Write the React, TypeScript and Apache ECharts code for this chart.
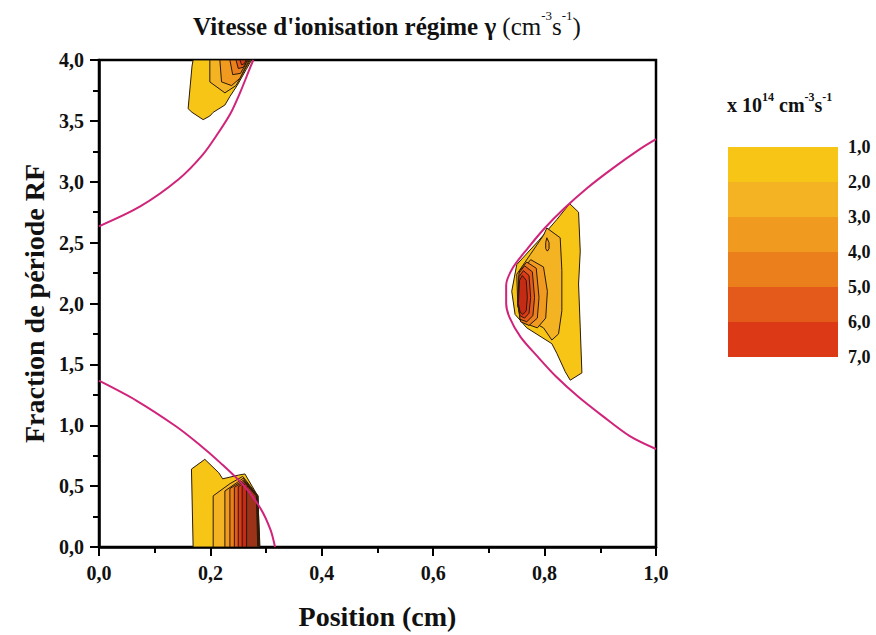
import React, { useEffect, useRef } from "react";
import * as echarts from "echarts";

const FONT = "'Liberation Serif', 'DejaVu Serif', serif";

// colour of each contour level (band above the level)
const levelColors = ["#F7C516", "#F4B322", "#F09B20", "#EB7F1C", "#E35A1A", "#DC3A17", "#C52A14", "#9A3318"];

// legend
const legendTicks = ["1,0", "2,0", "3,0", "4,0", "5,0", "6,0", "7,0"];
const legendColors = ["#F7C516", "#F4B322", "#F09B20", "#EB7F1C", "#E35A1A", "#DC3A17"];

// contour polygons (level, points [position, fraction])
const bottomLeftContours = [
  { level: 1, pts: [[0.169, 0], [0.166, 0.64], [0.19, 0.72], [0.215, 0.61], [0.222, 0.56], [0.25, 0.59], [0.262, 0.6], [0.285, 0.42], [0.289, 0]] },
  { level: 2, pts: [[0.205, 0], [0.205, 0.42], [0.235, 0.52], [0.258, 0.58], [0.2855, 0.42], [0.288, 0]] },
  { level: 3, pts: [[0.226, 0], [0.226, 0.46], [0.259, 0.565], [0.285, 0.42], [0.2875, 0]] },
  { level: 4, pts: [[0.235, 0], [0.235, 0.48], [0.26, 0.55], [0.2845, 0.42], [0.287, 0]] },
  { level: 5, pts: [[0.243, 0], [0.243, 0.49], [0.261, 0.54], [0.284, 0.42], [0.2865, 0]] },
  { level: 6, pts: [[0.25, 0], [0.25, 0.495], [0.262, 0.53], [0.2835, 0.42], [0.286, 0]] },
  { level: 7, pts: [[0.257, 0], [0.257, 0.5], [0.263, 0.52], [0.283, 0.42], [0.2855, 0]] },
  { level: 8, pts: [[0.265, 0], [0.265, 0.49], [0.267, 0.5], [0.2825, 0.42], [0.285, 0]] },
];

const topLeftContours = [
  { level: 1, pts: [[0.169, 4], [0.167, 3.95], [0.16, 3.6], [0.167, 3.57], [0.187, 3.51], [0.199, 3.54], [0.205, 3.57], [0.226, 3.63], [0.235, 3.7], [0.248, 3.79], [0.264, 3.92], [0.274, 4]] },
  { level: 2, pts: [[0.199, 4], [0.199, 3.82], [0.226, 3.73], [0.246, 3.79], [0.264, 3.94], [0.272, 4]] },
  { level: 3, pts: [[0.217, 4], [0.22, 3.82], [0.238, 3.79], [0.253, 3.85], [0.265, 3.96], [0.27, 4]] },
  { level: 4, pts: [[0.235, 4], [0.24, 3.88], [0.254, 3.89], [0.264, 3.97], [0.268, 4]] },
  { level: 5, pts: [[0.246, 4], [0.25, 3.93], [0.259, 3.94], [0.264, 3.98], [0.266, 4]] },
  { level: 6, pts: [[0.253, 4], [0.256, 3.96], [0.261, 3.97], [0.264, 4]] },
];

const rightContours = [
  { level: 1, pts: [[0.845, 2.82], [0.861, 2.75], [0.864, 2.43], [0.861, 2.16], [0.864, 1.8], [0.867, 1.43], [0.846, 1.37], [0.837, 1.44], [0.822, 1.59], [0.813, 1.67], [0.768, 1.8], [0.747, 1.91], [0.741, 2.1], [0.75, 2.32], [0.79, 2.52], [0.822, 2.69], [0.838, 2.78]] },
  { level: 2, pts: [[0.804, 2.62], [0.828, 2.54], [0.831, 2.27], [0.831, 1.94], [0.825, 1.75], [0.813, 1.7], [0.798, 1.8], [0.774, 1.86], [0.752, 1.97], [0.75, 2.24], [0.774, 2.4], [0.798, 2.56]] },
  { level: 3, pts: [[0.753, 2.0], [0.757, 2.26], [0.775, 2.36], [0.798, 2.3], [0.805, 2.1], [0.802, 1.88], [0.787, 1.8], [0.763, 1.84]] },
  { level: 3, pts: [[0.804, 2.54], [0.808, 2.5], [0.808, 2.45], [0.805, 2.43], [0.802, 2.45], [0.802, 2.5]] },
  { level: 4, pts: [[0.752, 2.0], [0.755, 2.27], [0.768, 2.34], [0.785, 2.29], [0.79, 2.05], [0.787, 1.88], [0.772, 1.82], [0.757, 1.85]] },
  { level: 5, pts: [[0.752, 2.0], [0.754, 2.25], [0.764, 2.31], [0.778, 2.26], [0.782, 2.05], [0.779, 1.9], [0.768, 1.85], [0.756, 1.87]] },
  { level: 6, pts: [[0.752, 2.0], [0.754, 2.22], [0.762, 2.27], [0.772, 2.23], [0.775, 2.05], [0.772, 1.92], [0.764, 1.88], [0.756, 1.9]] },
  { level: 7, pts: [[0.753, 2.0], [0.755, 2.19], [0.76, 2.23], [0.767, 2.19], [0.769, 2.05], [0.767, 1.94], [0.761, 1.91], [0.756, 1.93]] },
];

// sheath boundaries (magenta)
const sheathBottomLeft = [[0, 1.366], [0.067, 1.203], [0.138, 0.992], [0.179, 0.846], [0.218, 0.691], [0.26, 0.504], [0.29, 0.317], [0.308, 0.14], [0.316, 0]];
const sheathTopLeft = [[0, 2.634], [0.074, 2.797], [0.143, 3.02], [0.186, 3.22], [0.214, 3.4], [0.236, 3.56], [0.254, 3.74], [0.269, 3.91], [0.277, 4.0]];
const sheathRight = [[1.0, 3.35], [0.971, 3.268], [0.921, 3.106], [0.875, 2.943], [0.835, 2.78], [0.8, 2.618], [0.77, 2.455], [0.743, 2.293], [0.731, 2.15], [0.731, 2.0], [0.737, 1.886], [0.757, 1.724], [0.788, 1.561], [0.821, 1.398], [0.86, 1.236], [0.905, 1.073], [0.953, 0.911], [1.0, 0.805]];

const fmt = (v: number) => v.toFixed(1).replace(".", ",");

export default function App() {
  const ref = useRef<HTMLDivElement>(null);
  useEffect(() => {
    if (!ref.current) return;
    const chart = echarts.init(ref.current, undefined, { renderer: "svg" });
    const polys = [...bottomLeftContours, ...topLeftContours, ...rightContours]
      .slice()
      .sort((a, b) => a.level - b.level);

    const lineSeries = (data: number[][]) => ({
      type: "line",
      data,
      smooth: 0.3,
      showSymbol: false,
      symbol: "none",
      z: 5,
      lineStyle: { color: "#D0247A", width: 2 },
      clip: true,
    });

    chart.setOption({
      animation: false,
      backgroundColor: "#fff",
      title: {
        left: 188,
        top: 4,
        text: "{b|Vitesse d'ionisation régime γ} {n|(cm}{s|-3}{n|s}{s|-1}{n|)}",
        textStyle: {
          fontFamily: FONT,
          fontSize: 25,
          fontWeight: "bold",
          color: "#111",
          rich: {
            b: { fontFamily: FONT, fontSize: 25, fontWeight: "bold", color: "#111", lineHeight: 34 },
            n: { fontFamily: FONT, fontSize: 25, fontWeight: "normal", color: "#111", lineHeight: 34 },
            s: { fontFamily: FONT, fontSize: 13, fontWeight: "normal", color: "#111", verticalAlign: "top", lineHeight: 15 },
          },
        },
      },
      grid: {
        left: 99,
        top: 60,
        width: 557,
        height: 492,
        show: true,
        borderColor: "#000",
        borderWidth: 2.5,
        backgroundColor: "transparent",
      },
      xAxis: {
        type: "value",
        min: 0,
        max: 1,
        interval: 0.2,
        name: "Position (cm)",
        nameLocation: "middle",
        nameGap: 55,
        nameTextStyle: { fontFamily: FONT, fontSize: 28, fontWeight: "bold", color: "#111" },
        axisLine: { show: true, lineStyle: { color: "#000", width: 2.5 } },
        axisTick: { show: true, inside: false, length: 9, lineStyle: { color: "#000", width: 2 } },
        minorTick: { show: true, splitNumber: 2, length: 6, lineStyle: { color: "#000", width: 2 } },
        splitLine: { show: false },
        axisLabel: { formatter: fmt, margin: 16, fontFamily: FONT, fontSize: 20, fontWeight: "bold", color: "#111" },
      },
      yAxis: {
        type: "value",
        min: 0,
        max: 4,
        interval: 0.5,
        name: "Fraction de période RF",
        nameLocation: "middle",
        nameGap: 48,
        nameRotate: 90,
        nameTextStyle: { fontFamily: FONT, fontSize: 28, fontWeight: "bold", color: "#111" },
        axisLine: { show: true, lineStyle: { color: "#000", width: 2.5 } },
        axisTick: { show: true, inside: false, length: 9, lineStyle: { color: "#000", width: 2 } },
        minorTick: { show: true, splitNumber: 2, length: 6, lineStyle: { color: "#000", width: 2 } },
        splitLine: { show: false },
        axisLabel: { formatter: fmt, margin: 15, fontFamily: FONT, fontSize: 20, fontWeight: "bold", color: "#111" },
      },
      series: [
        {
          type: "custom",
          coordinateSystem: "cartesian2d",
          clip: true,
          z: 3,
          data: polys.map((p) => [p.pts[0][0], p.pts[0][1], p.level]),
          encode: { x: 0, y: 1 },
          renderItem: (params: any, api: any) => {
            const p = polys[params.dataIndex];
            const pts = p.pts.map((q) => api.coord(q));
            return {
              type: "polygon",
              shape: { points: pts },
              style: { fill: levelColors[p.level - 1], stroke: "#2a1a0a", lineWidth: 1 },
            };
          },
        },
        lineSeries(sheathBottomLeft),
        lineSeries(sheathTopLeft),
        lineSeries(sheathRight),
      ],
      graphic: [
        {
          type: "text",
          left: 727,
          top: 91,
          style: {
            text: "{a|x 10}{s|14}{a| cm}{s|-3}{a|s}{s|-1}",
            fontFamily: FONT,
            fontSize: 20,
            fontWeight: "bold",
            fill: "#111",
            rich: {
              a: { fontFamily: FONT, fontSize: 20, fontWeight: "bold", fill: "#111", lineHeight: 27 },
              s: { fontFamily: FONT, fontSize: 12, fontWeight: "bold", fill: "#111", verticalAlign: "top", lineHeight: 13 },
            },
          },
        },
        ...legendColors.map((c, i) => ({
          type: "rect",
          shape: { x: 728, y: 147 + i * 35, width: 110, height: 35 },
          style: { fill: c },
        })),
        ...legendTicks.map((t, i) => ({
          type: "text",
          style: {
            text: t,
            x: 848,
            y: 147 + i * 35,
            verticalAlign: "middle",
            fontFamily: FONT,
            fontSize: 18,
            fontWeight: "bold",
            fill: "#111",
          },
        })),
      ],
    });
    return () => chart.dispose();
  }, []);
  return <div ref={ref} style={{ position: "fixed", left: 0, top: 0, width: 876, height: 635 }} />;
}
